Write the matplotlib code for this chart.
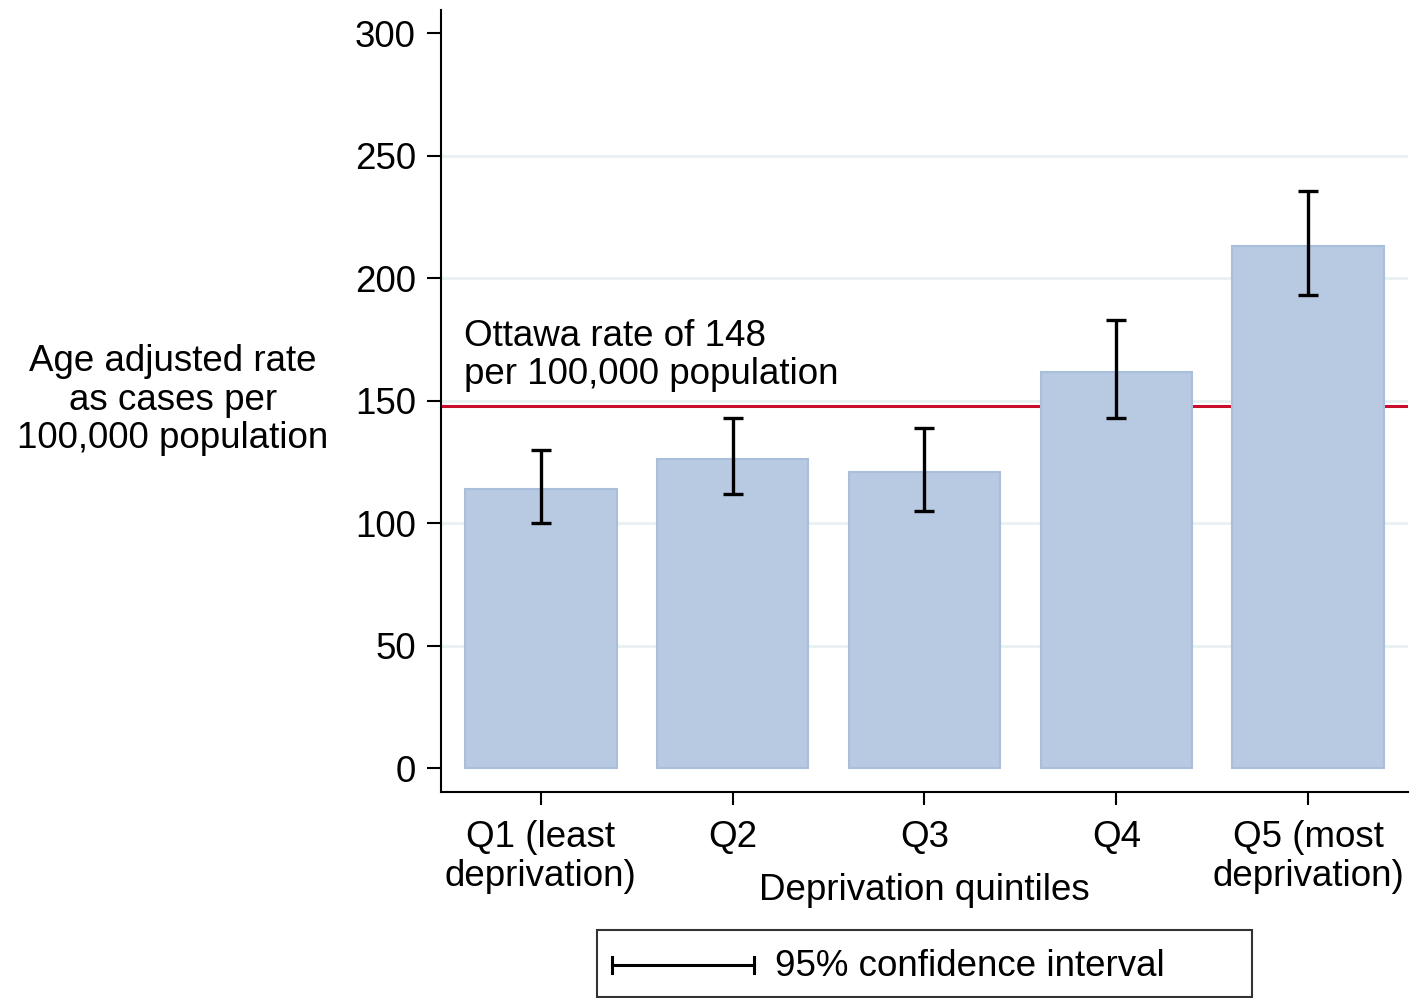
import numpy as np
import matplotlib
matplotlib.use("Agg")
import matplotlib.pyplot as plt
from matplotlib.patches import Rectangle
from matplotlib.lines import Line2D

plt.rcParams['font.family'] = ['Liberation Sans', 'DejaVu Sans']

# age adjusted rates by deprivation quintile, with 95% CI
quintiles = ["Q1 (least\ndeprivation)", "Q2", "Q3", "Q4", "Q5 (most\ndeprivation)"]
rates = [114, 126, 121, 161.5, 213]
ci_low = [100, 112, 105, 143, 193]
ci_high = [130, 143, 139, 183, 235.5]
ottawa_rate = 148
yticks = [0, 50, 100, 150, 200, 250, 300]

bar_color = "#b8c9e2"
bar_edge = "#a9bedb"
red = "#c8102e"
grid_color = "#e8f0f2"
fs = 26.5

fig = plt.figure(figsize=(14.28, 9.98), dpi=100)
ax = fig.add_axes([0.3088, 0.2064, 0.986 - 0.3088, 0.99 - 0.2064])

x = np.arange(1, len(rates) + 1)
ax.hlines(yticks[1:-1], 0.48, 5.52, color=grid_color, lw=2, zorder=0)
ax.axhline(ottawa_rate, color=red, lw=2.2, zorder=1)
ax.bar(x, rates, width=0.79, color=bar_color, edgecolor=bar_edge, lw=1.5, zorder=2)
rates_arr = np.array(rates)
yerr = [rates_arr - np.array(ci_low), np.array(ci_high) - rates_arr]
ax.errorbar(x, rates, yerr=yerr, fmt="none", ecolor="black", elinewidth=2.4,
            capsize=7.5, capthick=2.4, zorder=3)

ax.text(0.6, 168.5, "Ottawa rate of 148\nper 100,000 population", fontsize=fs,
        ha="left", va="center", linespacing=1.12)

ax.set_xlim(0.48, 5.52)
ax.set_ylim(-9.8, 309.5)
ax.set_xticks(x)
ax.set_xticklabels(quintiles, fontsize=fs, linespacing=1.12)
ax.set_yticks(yticks)
ax.set_yticklabels([str(t) for t in yticks], fontsize=fs)
ax.tick_params(axis="x", length=9.5, width=1.5, pad=11)
ax.tick_params(axis="y", length=10, width=1.5, pad=8)
for side in ["top", "right"]:
    ax.spines[side].set_visible(False)
for side in ["left", "bottom"]:
    ax.spines[side].set_linewidth(1.5)

fig.text(0.6475, 1 - 890 / 998, "Deprivation quintiles", fontsize=fs,
         ha="center", va="center")
fig.text(0.121, 1 - 400 / 998, "Age adjusted rate\nas cases per\n100,000 population",
         fontsize=fs, ha="center", va="center", linespacing=1.12)

# legend box for the CI marker
fig.patches.append(Rectangle((597 / 1428, 1 - 997 / 998), (1252 - 597) / 1428, 67 / 998,
                             transform=fig.transFigure, fill=False, ec="#333333", lw=1.5))
ly = 1 - 965 / 998
fig.lines.append(Line2D([612 / 1428, 754 / 1428], [ly, ly], transform=fig.transFigure,
                        color="black", lw=2.2))
for lx in (612 / 1428, 754 / 1428):
    fig.lines.append(Line2D([lx, lx], [ly - 8 / 998, ly + 8 / 998], transform=fig.transFigure,
                            color="black", lw=2.2))
fig.text(775 / 1428, 1 - 966 / 998, "95% confidence interval", fontsize=fs, ha="left", va="center")

fig.savefig("out.png", dpi=100)
